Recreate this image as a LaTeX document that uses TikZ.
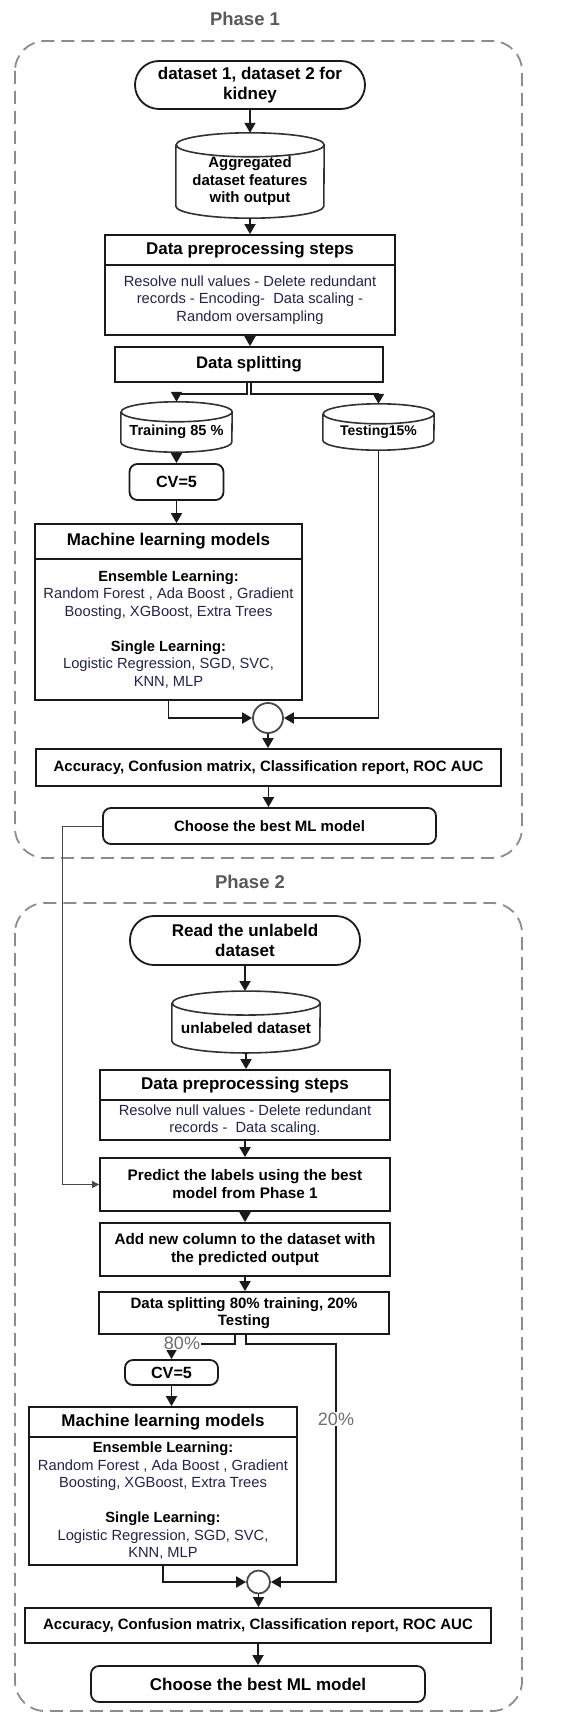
\documentclass[tikz,border=0pt]{standalone}
\usepackage{fontspec}
\setmainfont{Liberation Sans}
\usetikzlibrary{arrows.meta}
\usetikzlibrary{shapes}
\usetikzlibrary{calc}
\definecolor{FlowLine}{HTML}{1A1A1A}
\definecolor{FlowText}{HTML}{23234A}
\definecolor{PhaseGrey}{HTML}{8C8C8C}
\definecolor{TitleGrey}{HTML}{595959}
\definecolor{PctGrey}{HTML}{6E6E6E}
\newcommand{\headsize}{\fontsize{17}{20}\selectfont\bfseries}
\newcommand{\labsize}{\fontsize{15}{17.5}\selectfont\bfseries}
\newcommand{\bodysize}{\fontsize{14.7}{17.5}\selectfont}
\newcommand{\mlmodels}{%
  \textcolor{black}{\bfseries Ensemble Learning:}\\
  Random Forest , Ada Boost , Gradient\\
  Boosting, XGBoost, Extra Trees\\[17.5pt]
  \textcolor{black}{\bfseries Single Learning:}\\
  Logistic Regression, SGD, SVC,\\
  KNN, MLP}
\tikzset{
  flowbox/.style={draw=FlowLine, line width=1.8pt, inner sep=1pt, align=center, text=black, font=\labsize},
  headbox/.style={flowbox, font=\headsize},
  bodybox/.style={flowbox, font=\bodysize, text=FlowText},
  termbox/.style={headbox, rounded corners=24pt},
  softbox/.style={flowbox, rounded corners=8pt},
  drumbody/.style={inner sep=0pt, align=center, font=\labsize},
  drumline/.style={draw=FlowLine!90, line width=1.6pt},
  joint/.style={circle, draw=FlowLine!80, line width=1.8pt, inner sep=0pt},
  pct/.style={fill=white, inner sep=1pt, text=PctGrey, font=\fontsize{18}{20}\selectfont},
  flow/.style={draw=FlowLine, line width=1.8pt, -{Triangle[length=10pt,width=11pt]}},
  feedback/.style={draw=FlowLine!80, line width=0.9pt, -{Triangle[length=7pt,width=7pt]}},
  phase/.style={draw=PhaseGrey, line width=1.8pt, dash pattern=on 13pt off 7pt, rounded corners=30pt},
  phasetitle/.style={text=TitleGrey, font=\fontsize{18.5}{22}\selectfont\bfseries}
}
% cylinder outline round a body node: name, x radius, y radius
\newcommand{\drum}[3]{%
  \draw[drumline] (#1.north west) -- ([yshift=#3pt]#1.south west)
    arc[start angle=180, end angle=360, x radius=#2pt, y radius=#3pt]
    -- (#1.north east)
    arc[start angle=0, end angle=360, x radius=#2pt, y radius=#3pt];
  \coordinate (#1-top) at ([yshift=#3pt]#1.north);
}

\begin{document}
\begin{tikzpicture}[x=1pt,y=-1pt]
  \useasboundingbox (0,0) rectangle (574,1712);

  % Phase frames
  \draw[phase] (15,41) rectangle (522,858);
  \draw[phase] (15,903) rectangle (522,1711);
  \node[phasetitle] (ph1) at (245,19) {Phase 1};
  \node[phasetitle] (ph2) at (250,882) {Phase 2};

  % Phase 1: training
  \node[termbox, minimum width=230pt, minimum height=48pt] (kidney) at (250,85) {dataset 1, dataset 2 for\\kidney};
  \node[drumbody, minimum width=148pt, minimum height=73pt] (agg) at (250,181.5) {Aggregated\\dataset features\\with output};
  \drum{agg}{74}{12}
  \node[headbox, minimum width=290pt, minimum height=30pt] (prep1h) at (250,250) {Data preprocessing steps};
  \node[bodybox, minimum width=290pt, minimum height=70pt] (prep1b) at (250,300) {Resolve null values - Delete redundant\\records - Encoding-\ \ Data scaling -\\Random oversampling};
  \node[flowbox, font=\fontsize{16.7}{20}\selectfont\bfseries, minimum width=268pt, minimum height=35pt] (split1) at (249,364.5) {Data splitting};
  \node[drumbody, font=\fontsize{14.6}{17}\selectfont\bfseries, minimum width=111pt, minimum height=40pt] (train) at (176.5,432) {Training 85 \%};
  \drum{train}{55.5}{10}
  \node[drumbody, font=\fontsize{14}{17}\selectfont\bfseries, minimum width=111pt, minimum height=36pt] (test) at (378.5,432) {Testing15\%};
  \drum{test}{55.5}{10}
  \node[softbox, font=\fontsize{16.2}{19}\selectfont\bfseries, minimum width=94pt, minimum height=36pt] (cv1) at (176.5,482) {CV=5};
  \node[headbox, minimum width=267pt, minimum height=35pt] (ml1h) at (168.5,541.5) {Machine learning models};
  \node[bodybox, minimum width=267pt, minimum height=141pt] (ml1b) at (168.5,629.5) {\mlmodels};
  \node[joint, minimum size=30pt] (join1) at (268,718) {};
  \node[flowbox, minimum width=465pt, minimum height=37pt] (acc1) at (268.5,767.5) {Accuracy, Confusion matrix, Classification report, ROC AUC};
  \node[softbox, minimum width=333pt, minimum height=36pt] (best1) at (269.5,826) {Choose the best ML model};

  \draw[flow] (kidney.south) -- (kidney.south |- agg-top);
  \draw[flow] (agg.south) -- (agg.south |- prep1h.north);
  \draw[flow] (prep1b.south) -- (prep1b.south |- split1.north);
  \draw[flow] ([xshift=-2pt]split1.south) -- ++(0,11) -| (train-top);
  \draw[flow] ([xshift=2pt]split1.south) -- ++(0,11) -| (test-top);
  \draw[flow] (train.south) -- (train.south |- cv1.north);
  \draw[flow] (cv1.south) -- (cv1.south |- ml1h.north);
  \draw[flow] (ml1b.south) |- (join1.west);
  \draw[flow] (test.south) |- (join1.east);
  \draw[flow] (join1.south) -- (join1.south |- acc1.north);
  \draw[flow] (acc1.south) -- (acc1.south |- best1.north);

  % Phase 2: labelling
  \node[termbox, minimum width=230pt, minimum height=49pt] (read) at (245,940.5) {Read the unlabeld\\dataset};
  \node[drumbody, font=\fontsize{15.4}{18}\selectfont\bfseries, minimum width=148pt, minimum height=49.5pt] (unl) at (246,1028) {unlabeled dataset};
  \drum{unl}{74}{12}
  \node[headbox, minimum width=290pt, minimum height=30pt] (prep2h) at (245,1085) {Data preprocessing steps};
  \node[bodybox, minimum width=290pt, minimum height=40pt] (prep2b) at (245,1120) {Resolve null values - Delete redundant\\records - \ Data scaling.};
  \node[flowbox, font=\fontsize{15.3}{18}\selectfont\bfseries, minimum width=290pt, minimum height=53pt] (pred) at (245,1184.5) {Predict the labels using the best\\model from Phase 1};
  \node[flowbox, font=\fontsize{15.3}{18}\selectfont\bfseries, minimum width=290pt, minimum height=53pt] (add) at (245,1249.5) {Add new column to the dataset with\\the predicted output};
  \node[flowbox, font=\fontsize{15}{17}\selectfont\bfseries, minimum width=290pt, minimum height=42pt] (split2) at (244,1313) {Data splitting 80\% training, 20\%\\Testing};
  \node[softbox, font=\fontsize{16.2}{19}\selectfont\bfseries, minimum width=93pt, minimum height=25pt] (cv2) at (171.5,1372.5) {CV=5};
  \node[headbox, minimum width=268pt, minimum height=30pt] (ml2h) at (163,1422) {Machine learning models};
  \node[bodybox, minimum width=268pt, minimum height=128pt] (ml2b) at (163,1501) {\mlmodels};
  \node[joint, minimum size=23pt] (join2) at (258.5,1582) {};
  \node[flowbox, minimum width=466pt, minimum height=35pt] (acc2) at (258,1625.5) {Accuracy, Confusion matrix, Classification report, ROC AUC};
  \node[softbox, font=\headsize, minimum width=334pt, minimum height=36pt] (best2) at (258,1684) {Choose the best ML model};

  \draw[flow] (read.south) -- (read.south |- unl-top);
  \draw[flow] (unl.south) -- (unl.south |- prep2h.north);
  \draw[flow] (prep2b.south) -- (prep2b.south |- pred.north);
  \draw[flow] (pred.south) -- (pred.south |- add.north);
  \draw[flow] (add.south) -- (add.south |- split2.north);
  \draw[flow] ([xshift=-9pt]split2.south) -- ++(0,9) -| (cv2.north);
  \draw[flow] ([xshift=2pt]split2.south) -- ++(0,9) -- ++(90,0) |- (join2.east);
  \node[pct] (p80) at (182,1343) {80\%};
  \node[pct] (p20) at (336,1419) {20\%};
  \draw[flow] (cv2.south) -- (cv2.south |- ml2h.north);
  \draw[flow] (ml2b.south) |- (join2.west);
  \draw[flow] (join2.south) -- (join2.south |- acc2.north);
  \draw[flow] (acc2.south) -- (acc2.south |- best2.north);

  % Best model of phase 1 feeds the prediction step
  \draw[feedback] (best1.west) -- ++(-40,0) |- (pred.west);
\end{tikzpicture}
\end{document}
